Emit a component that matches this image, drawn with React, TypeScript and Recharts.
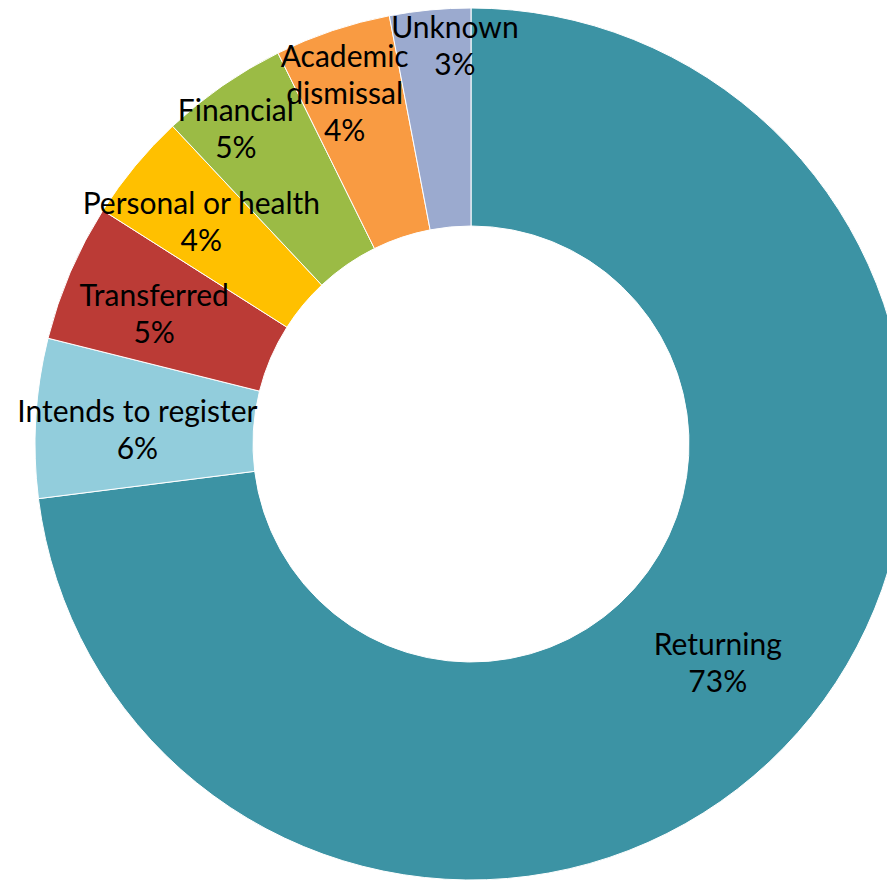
import React from "react";
import { PieChart, Pie, Cell } from "recharts";

const categories = [
  "Returning",
  "Intends to register",
  "Transferred",
  "Personal or health",
  "Financial",
  "Academic dismissal",
  "Unknown",
];
const shares = [73.0, 5.9, 5.1, 4.0, 4.7, 4.3, 3.0];
const colors = ["#3C93A4", "#92CDDC", "#BB3B36", "#FFC000", "#9BBB45", "#F99B42", "#9BAACF"];

// label line breaks as shown in the reference
const labelLines = [
  ["Returning"],
  ["Intends to register"],
  ["Transferred"],
  ["Personal or health"],
  ["Financial"],
  ["Academic", "dismissal"],
  ["Unknown"],
];

// label placement tweaks: extra radius (px) and clockwise angle shift (deg)
const labelRadiusExtra = [2, 7, 16, 23, 67, 47, 73];
const labelAngleShift = [0, -0.7, -0.7, 0, -1.9, -1.2, 3.1];

const data = categories.map((name, i) => ({ name, value: shares[i] }));

const RADIAN = Math.PI / 180;
const FONT = "Lato, 'Open Sans', sans-serif";
const LINE = 37;

const renderLabel = (props: any) => {
  const { cx, cy, midAngle, innerRadius, outerRadius, index, value } = props;
  const r = (innerRadius + outerRadius) / 2 + labelRadiusExtra[index];
  const a = midAngle - labelAngleShift[index];
  const x = cx + r * Math.cos(-a * RADIAN);
  const y = cy + r * Math.sin(-a * RADIAN);
  const lines = [...labelLines[index], `${Math.round(value)}%`];
  const top = y - ((lines.length - 1) * LINE) / 2;
  return (
    <text
      x={x}
      y={top}
      textAnchor="middle"
      dominantBaseline="central"
      fill="#000"
      fontFamily={FONT}
      fontSize={30}
    >
      {lines.map((l, k) => (
        <tspan key={k} x={x} y={top + k * LINE} dominantBaseline="central">
          {l}
        </tspan>
      ))}
    </text>
  );
};

export default function App() {
  return (
    <div style={{ width: 895, height: 880, background: "#fff" }}>
      <PieChart width={895} height={880} margin={{ top: 0, right: 0, bottom: 0, left: 0 }}>
        <Pie
          data={data}
          dataKey="value"
          nameKey="name"
          cx={463}
          cy={436}
          innerRadius={218}
          outerRadius={436}
          startAngle={90}
          endAngle={-270}
          stroke="#ffffff"
          strokeWidth={1}
          label={renderLabel}
          labelLine={false}
          isAnimationActive={false}
        >
          {data.map((d, i) => (
            <Cell key={d.name} fill={colors[i]} />
          ))}
        </Pie>
      </PieChart>
    </div>
  );
}
